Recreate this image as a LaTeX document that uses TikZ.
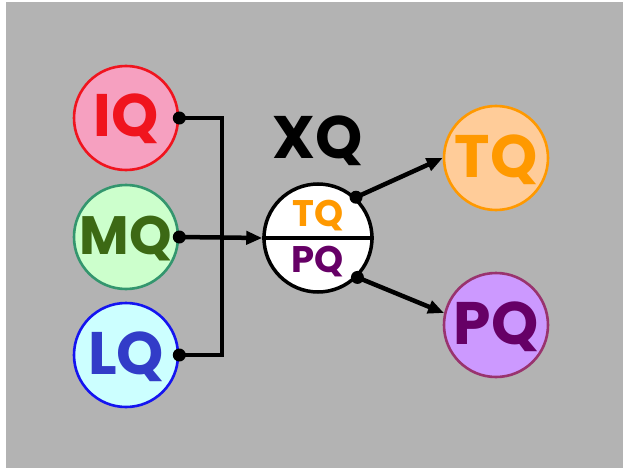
\documentclass[tikz,border=0pt]{standalone}
\usepackage{fontspec}
\newfontfamily\labelfont{Poppins}
\usetikzlibrary{arrows.meta}

\definecolor{bggray}{RGB}{179,179,179}
\definecolor{iqfill}{RGB}{246,160,192}
\definecolor{iqline}{RGB}{240,20,30}
\definecolor{mqfill}{RGB}{204,255,204}
\definecolor{mqline}{RGB}{51,150,110}
\definecolor{mqtext}{RGB}{60,105,20}
\definecolor{lqfill}{RGB}{204,255,255}
\definecolor{lqline}{RGB}{20,20,240}
\definecolor{lqtext}{RGB}{50,60,200}
\definecolor{tqfill}{RGB}{255,204,153}
\definecolor{tqline}{RGB}{255,153,0}
\definecolor{pqfill}{RGB}{204,153,255}
\definecolor{pqline}{RGB}{153,51,110}
\definecolor{pqtext}{RGB}{102,0,102}

\tikzset{
  ball/.style={circle, minimum size=104pt, inner sep=0pt, line width=2.6pt},
  bigtxt/.style={font=\labelfont\bfseries\fontsize{60}{60}\selectfont,
    text height=42pt, text depth=0pt, inner sep=0pt},
  widetxt/.style={font=\labelfont\bfseries\fontsize{54}{54}\selectfont,
    text height=38pt, text depth=0pt, inner sep=0pt},
  smalltxt/.style={font=\labelfont\bfseries\fontsize{37}{37}\selectfont,
    text height=26pt, text depth=0pt, inner sep=0pt},
  wire/.style={line width=4.5pt},
  arrowwire/.style={wire, -{Triangle[length=16pt,width=13pt]}},
  dot/.style={circle, fill=black, inner sep=0pt, minimum size=13pt},
}

\begin{document}
\begin{tikzpicture}[x=1pt, y=-1pt]
  \useasboundingbox (0,0) rectangle (623,468);
  \fill[bggray] (6,2) rectangle (623,468);

  % input circles
  \node[ball, fill=iqfill, draw=iqline] (iq) at (126,118) {};
  \node[bigtxt, text=iqline] (iq-t) at ([shift={(0,-3)}]iq.center) {IQ};

  \node[ball, fill=mqfill, draw=mqline] (mq) at (126,237) {};
  \node[widetxt, text=mqtext] (mq-t) at ([shift={(0,-2)}]mq.center) {MQ};

  \node[ball, fill=lqfill, draw=lqline] (lq) at (126,355) {};
  \node[bigtxt, text=lqtext] (lq-t) at ([shift={(0,-2)}]lq.center) {LQ};

  % output circles
  \node[ball, fill=tqfill, draw=tqline] (tq) at (496,158) {};
  \node[bigtxt, text=tqline] (tq-t) at ([shift={(0,-2)}]tq.center) {TQ};

  \node[ball, fill=pqfill, draw=pqline] (pq) at (496,325) {};
  \node[bigtxt, text=pqtext] (pq-t) at ([shift={(0,-2)}]pq.center) {PQ};

  % central split circle
  \node[circle, minimum size=108pt, inner sep=0pt, fill=white, draw=black,
        line width=3.5pt] (xq) at (318,238) {};
  \draw[line width=3.5pt] (xq.west) -- (xq.east);
  \node[smalltxt, text=tqline] (xq-top) at (318,213) {TQ};
  \node[smalltxt, text=pqtext] (xq-bot) at (318,259) {PQ};
  \node[bigtxt, text=black] (xq-label) at (318,137) {XQ};

  % collector wiring
  \coordinate (jtop) at (222,118);
  \coordinate (jbot) at (222,355);
  \draw[wire] (iq.east) -- (jtop) -- (jbot) -- (lq.east);
  \draw[arrowwire] (mq.east) -- (xq.west);
  \node[dot] (iq-d) at (iq.east) {};
  \node[dot] (mq-d) at (mq.east) {};
  \node[dot] (lq-d) at (lq.east) {};

  % outputs
  \draw[arrowwire] (xq.47) -- (tq.west);
  \draw[arrowwire] (xq.-45) -- (pq.167);
  \node[dot] (xq-d1) at (xq.47) {};
  \node[dot] (xq-d2) at (xq.-45) {};
\end{tikzpicture}
\end{document}
